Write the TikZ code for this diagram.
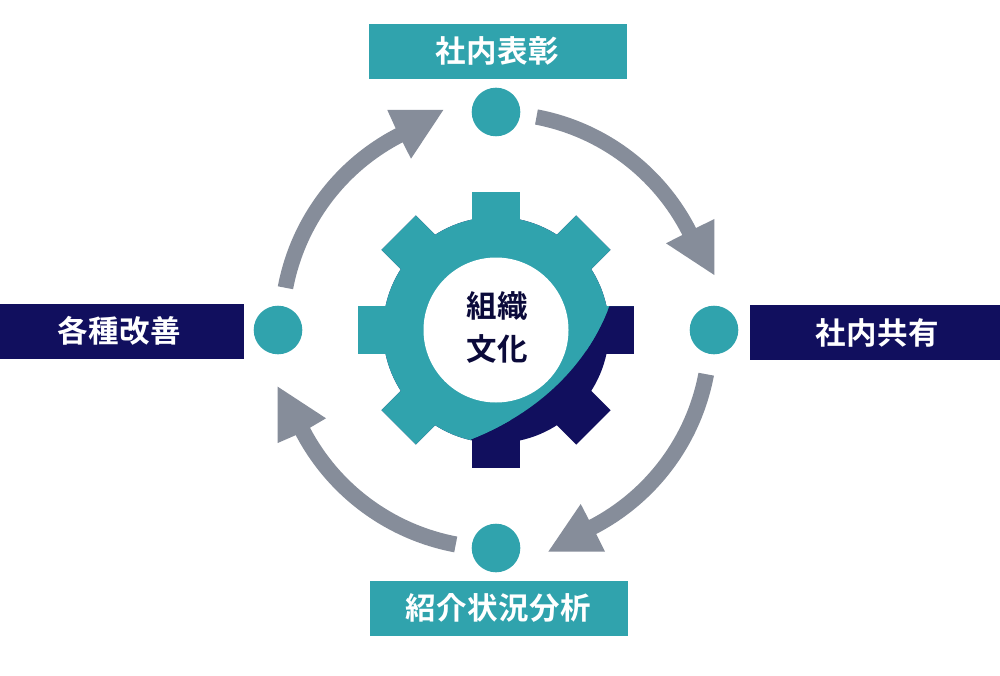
\documentclass[tikz,border=0pt]{standalone}
\usepackage{fontspec}
\newfontfamily\cjkb{Noto Sans CJK JP Bold}
\definecolor{tealc}{HTML}{30A3AD}
\definecolor{navyc}{HTML}{110F5E}
\definecolor{inkc}{HTML}{0B0A3A}
\definecolor{grayc}{HTML}{868D9A}
\tikzset{
  labelbox/.style={rectangle,inner sep=0pt,text=white,font=\cjkb\fontsize{30.5}{31}\selectfont},
  hubtext/.style={inner sep=0pt,text=inkc,font=\cjkb\fontsize{30.5}{31}\selectfont},
  dotnode/.style={circle,fill=tealc,inner sep=0pt,minimum size=48.6pt},
  cyclearrow/.style={fill=grayc,draw=none},
}
\newcommand{\gearshape}[1]{%
  \fill[#1] (496,330) circle[radius=113];
  \foreach \a in {0,45,...,315}{
    \fill[#1,rotate around={\a:(496,330)}] (471.7,240) rectangle (520.3,192.3);
  }%
}
\newcommand{\cjktext}[1]{{\addfontfeature{LetterSpace=1.6}#1}}
\begin{document}
\begin{tikzpicture}[x=1pt,y=1pt,yscale=-1]
\useasboundingbox (0,0) rectangle (1000,676);
\fill[white] (0,0) rectangle (1000,676);

% gear
\gearshape{navyc}
\begin{scope}
  \clip (700,306) -- (609.3,306) .. controls (586.7,366.7) and (536.7,413.3) .. (471,439.3)
        -- (471,500) -- (300,500) -- (300,150) -- (700,150) -- cycle;
  \gearshape{tealc}
\end{scope}
\node[circle,fill=white,inner sep=0pt,minimum size=145pt] (hub) at (496,330) {};
\node[hubtext] (hubtop) at (497,306) {\cjktext{組織}};
\node[hubtext] (hubbot) at (497,349) {\cjktext{文化}};

% arrows
\fill[cyclearrow] (496,330) ++(-79.25:224.5) arc[start angle=-79.25,end angle=-27,radius=224.5]
  -- (714.3,219) -- (714.3,275) -- (666,243.3) -- (682.3,235)
  arc[start angle=-27,end angle=-79.25,radius=209] -- cycle;
\fill[cyclearrow] (492.5,334) ++(10.65:225.3) arc[start angle=10.65,end angle=62.6,radius=225.3]
  -- (605,551.7) -- (548.3,551.7) -- (580.7,504) -- (589,520)
  arc[start angle=62.6,end angle=10.65,radius=209.45] -- cycle;
\fill[cyclearrow] (496,330) ++(100.65:226.2) arc[start angle=100.65,end angle=152.3,radius=226.2]
  -- (277.7,443) -- (277.7,386.7) -- (326,418.3) -- (310,427.7)
  arc[start angle=152.3,end angle=100.65,radius=210.2] -- cycle;
\fill[cyclearrow] (498.5,328) ++(190.7:224.6) arc[start angle=190.7,end angle=242.75,radius=224.6]
  -- (387.3,110) -- (443.3,110) -- (411,158.7) -- (402.7,142.3)
  arc[start angle=242.75,end angle=190.7,radius=208.9] -- cycle;

% dots
\node[dotnode] (dtop) at (496,112) {};
\node[dotnode] (dright) at (714,330) {};
\node[dotnode] (dbot) at (496,548) {};
\node[dotnode] (dleft) at (278,330) {};

% labels
\fill[tealc] (369,24) rectangle (627,79);
\node[labelbox] (ltop) at (497,51) {\cjktext{社内表彰}};
\fill[navyc] (750,305) rectangle (1000,360);
\node[labelbox] (lright) at (877,333) {\cjktext{社内共有}};
\fill[tealc] (370,581) rectangle (627.7,636);
\node[labelbox] (lbot) at (498,608) {\cjktext{紹介状況分析}};
\fill[navyc] (0,304) rectangle (244,359);
\node[labelbox] (lleft) at (119,331) {\cjktext{各種改善}};
\end{tikzpicture}
\end{document}
